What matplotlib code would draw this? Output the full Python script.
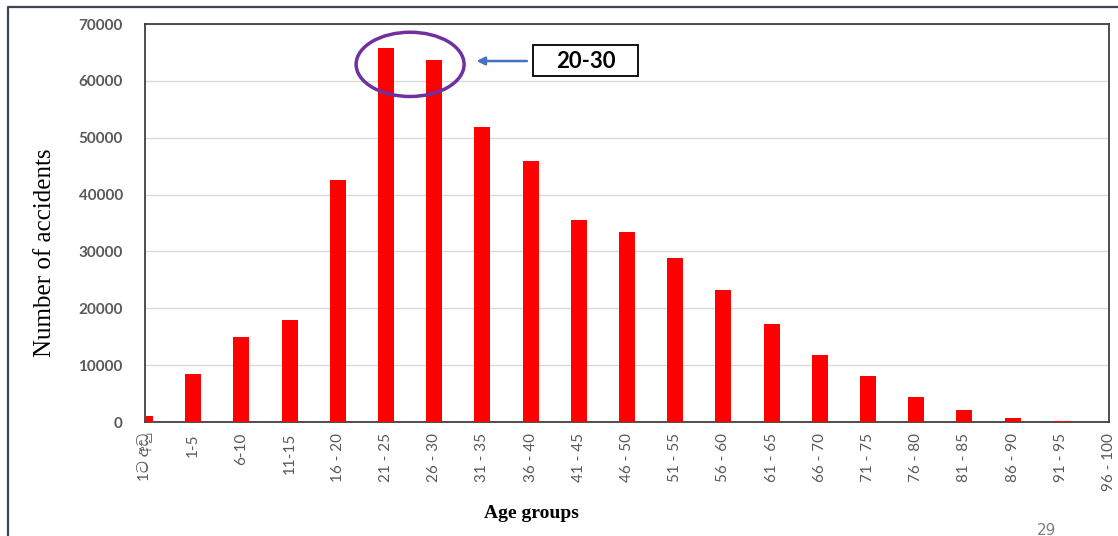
import matplotlib.pyplot as plt
from matplotlib.patches import Ellipse, Rectangle
from matplotlib.lines import Line2D
from matplotlib import font_manager
import numpy as np

age_groups = ['1ට අඩු', '1-5', '6-10', '11-15', '16 - 20', '21 - 25', '26 - 30',
              '31 - 35', '36 - 40', '41 - 45', '46 - 50', '51 - 55', '56 - 60',
              '61 - 65', '66 - 70', '71 - 75', '76 - 80', '81 - 85', '86 - 90',
              '91 - 95', '96 - 100']
accidents = [1000, 8500, 15000, 18000, 42600, 65700, 63700, 51900, 45900, 35500,
             33400, 28800, 23200, 17200, 11800, 8100, 4400, 2100, 700, 150, 0]
yticks = [0, 10000, 20000, 30000, 40000, 50000, 60000, 70000]

# pick a font that can draw Sinhala, if one is around
installed = {f.name for f in font_manager.fontManager.ttflist}
tick_fonts = ['Lato'] + [n for n in installed if 'Sinhala' in n] + ['DejaVu Sans']

fig = plt.figure(figsize=(11.18, 5.36), dpi=100)
ax = fig.add_axes([145 / 1118, 114 / 536, 964 / 1118, 398 / 536])

x = np.arange(len(accidents))
ax.bar(x, accidents, width=0.33, color='#ff0000', zorder=3)

ax.set_xlim(0, len(accidents) - 1.05)
ax.set_ylim(0, 70000)
ax.set_yticks(yticks)
ax.set_yticklabels([str(v) for v in yticks], fontfamily='Lato', fontweight='bold',
                   fontsize=11, color='#595959')
ax.set_xticks(x)
ax.set_xticklabels(age_groups, rotation=90, fontsize=11, color='#595959',
                   family=tick_fonts)
ax.tick_params(length=0, pad=8)
ax.tick_params(axis='y', pad=16)
ax.grid(axis='y', color='#d9d9d9', linewidth=1, zorder=0)
for s in ax.spines.values():
    s.set_color('#404040')
    s.set_linewidth(1.3)

fig.text(45 / 1118, 1 - 253 / 536, 'Number of accidents', fontfamily='Liberation Serif',
         fontsize=18, rotation=90, ha='center', va='center')
fig.text(531 / 1118, 23 / 536, 'Age groups', fontfamily='Liberation Serif',
         fontsize=14, fontweight='bold', ha='center', va='center')

# highlight the 20-30 peak
ax.add_patch(Ellipse((5.5, 62900), 2.24, 11300, fill=False, edgecolor='#7030a0',
                     linewidth=2.5, zorder=5, clip_on=False))
ax.annotate('', xy=(0.341, 0.907), xytext=(0.399, 0.907), xycoords='axes fraction',
            arrowprops=dict(arrowstyle='-|>', color='#4472c4', lw=1.8,
                            mutation_scale=12))
ax.add_patch(Rectangle((0.4025, 0.8693), 0.1089, 0.0779, transform=ax.transAxes,
                       facecolor='white', edgecolor='black', linewidth=1.3,
                       zorder=6, clip_on=False))
ax.text(0.457, 0.906, '20-30', transform=ax.transAxes, ha='center', va='center',
        fontfamily='Lato', fontweight='bold', fontsize=16, color='black', zorder=7)

# slide border and page number
fig.add_artist(Line2D([8 / 1118, 8 / 1118, 1], [0, 1 - 7 / 536, 1 - 7 / 536],
                      transform=fig.transFigure, color='#3b4656', linewidth=1.6))
fig.text(1047 / 1118, -2 / 536, '29', fontsize=11, color='#7f7f7f', ha='center',
         va='bottom')

fig.savefig('out.png', dpi=100)
